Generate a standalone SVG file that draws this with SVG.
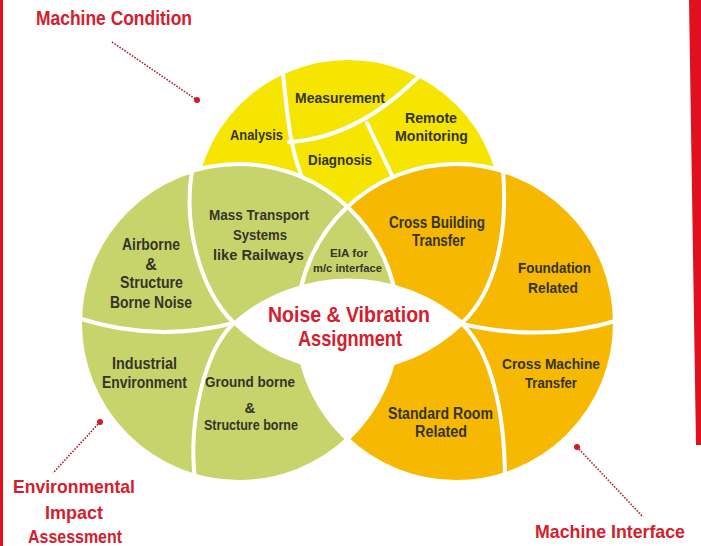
<svg xmlns="http://www.w3.org/2000/svg" width="701" height="546" viewBox="0 0 701 546">
<style>
.bg{fill:#ffffff}
.yel{fill:#f6e500;stroke:#ffffff;stroke-width:4}
.grn{fill:#c7d46c;stroke:#ffffff;stroke-width:4}
.org{fill:#f6b800;stroke:#ffffff;stroke-width:4}
.div{fill:none;stroke:#ffffff;stroke-width:4;stroke-linecap:round}
.t{font-family:"Liberation Sans",Arial,sans-serif;font-weight:bold;fill:#34342a;text-anchor:middle}
.s15{font-size:15px}
.s16{font-size:16px}
.s11{font-size:11px}
.red{font-family:"Liberation Sans",Arial,sans-serif;font-weight:bold;fill:#d4202c}
.lead{fill:none;stroke:#b3222c;stroke-width:1.6;stroke-dasharray:1.6 1.4}
.dot{fill:#d01c2a}
</style>
<defs>
<clipPath id="lensClip">
<path d="M347.5,206.8 A159,159 0 0 1 347.5,439.2 A159,159 0 0 1 347.5,206.8 Z"/>
</clipPath>
</defs>
<rect class="bg" x="0" y="0" width="701" height="546"/>
<rect x="0" y="0" width="3" height="546" fill="#e0101e"/>
<polygon points="689,0 701,0 701,445 696,445" fill="#e0101e"/>

<g id="machine-condition-circle">
<circle class="yel" cx="348" cy="213" r="155"/>
<path class="div" d="M282,64 C287,110 289,150 305,184"/>
<path class="div" d="M289,142 Q360,138 425,70"/>
<path class="div" d="M367,123 Q379,148 397,186"/>
</g>

<g id="environmental-circle">
<circle class="grn" cx="239" cy="323" r="159"/>
</g>

<g id="machine-interface-circle">
<circle class="org" cx="456" cy="323" r="159"/>
</g>

<g id="eia-lens">
<path class="grn" d="M347.5,206.8 A159,159 0 0 1 347.5,439.2 A159,159 0 0 1 347.5,206.8 Z"/>
<rect x="280" y="330" width="140" height="130" fill="#ffffff" clip-path="url(#lensClip)"/>
</g>

<g id="dividers">
<path class="div" d="M192,171 C183,225 200,290 234,323"/>
<path class="div" d="M78,318 Q155,343 234,323"/>
<path class="div" d="M234,323 C205,350 188,420 195,480"/>
<path class="div" d="M503,171 C508,230 497,290 462,323"/>
<path class="div" d="M619,320 Q545,343 462,324"/>
<path class="div" d="M462,324 C490,350 505,410 505,480"/>
</g>

<g id="centre">
<path d="M234,323 A174,174 0 0 1 463,323 A163,163 0 0 1 234,323 Z" fill="#ffffff" stroke="#ffffff" stroke-width="3"/>
<text class="red" x="349" y="322" font-size="22" text-anchor="middle" textLength="162" lengthAdjust="spacingAndGlyphs">Noise &amp; Vibration</text>
<text class="red" x="350" y="346" font-size="22" text-anchor="middle" textLength="104" lengthAdjust="spacingAndGlyphs">Assignment</text>
</g>

<g id="analysis"><text class="t s15" x="256.5" y="140" textLength="53" lengthAdjust="spacingAndGlyphs">Analysis</text></g>
<g id="measurement"><text class="t s15" x="340" y="103" textLength="90" lengthAdjust="spacingAndGlyphs">Measurement</text></g>
<g id="remote-monitoring">
<text class="t s15" x="431" y="123" textLength="52" lengthAdjust="spacingAndGlyphs">Remote</text>
<text class="t s15" x="431.5" y="141" textLength="73" lengthAdjust="spacingAndGlyphs">Monitoring</text>
</g>
<g id="diagnosis"><text class="t s15" x="340" y="165" textLength="64" lengthAdjust="spacingAndGlyphs">Diagnosis</text></g>

<g id="airborne">
<text class="t s16" x="151" y="250" textLength="58" lengthAdjust="spacingAndGlyphs">Airborne</text>
<text class="t s16" x="151" y="270">&amp;</text>
<text class="t s16" x="151.5" y="288" textLength="63" lengthAdjust="spacingAndGlyphs">Structure</text>
<text class="t s16" x="151" y="308" textLength="82" lengthAdjust="spacingAndGlyphs">Borne Noise</text>
</g>
<g id="mass-transport">
<text class="t s15" x="259" y="220" textLength="100" lengthAdjust="spacingAndGlyphs">Mass Transport</text>
<text class="t s15" x="260" y="240" textLength="54" lengthAdjust="spacingAndGlyphs">Systems</text>
<text class="t s15" x="258.5" y="260" textLength="91" lengthAdjust="spacingAndGlyphs">like Railways</text>
</g>
<g id="eia">
<text class="t s11" x="349" y="257" textLength="38" lengthAdjust="spacingAndGlyphs">EIA for</text>
<text class="t s11" x="347.5" y="272" textLength="69" lengthAdjust="spacingAndGlyphs">m/c interface</text>
</g>
<g id="industrial">
<text class="t s16" x="144.5" y="369" textLength="65" lengthAdjust="spacingAndGlyphs">Industrial</text>
<text class="t s16" x="144.5" y="388" textLength="85" lengthAdjust="spacingAndGlyphs">Environment</text>
</g>
<g id="ground-borne">
<text class="t s15" x="250" y="387" textLength="90" lengthAdjust="spacingAndGlyphs">Ground borne</text>
<text class="t s15" x="250" y="413">&amp;</text>
<text class="t s15" x="251" y="430" textLength="94" lengthAdjust="spacingAndGlyphs">Structure borne</text>
</g>

<g id="cross-building">
<text class="t s16" x="437" y="228" textLength="96" lengthAdjust="spacingAndGlyphs">Cross Building</text>
<text class="t s16" x="438.5" y="246" textLength="53" lengthAdjust="spacingAndGlyphs">Transfer</text>
</g>
<g id="foundation">
<text class="t s15" x="554.5" y="273" textLength="73" lengthAdjust="spacingAndGlyphs">Foundation</text>
<text class="t s15" x="553" y="293" textLength="50" lengthAdjust="spacingAndGlyphs">Related</text>
</g>
<g id="cross-machine">
<text class="t s15" x="551" y="369" textLength="98" lengthAdjust="spacingAndGlyphs">Cross Machine</text>
<text class="t s15" x="551" y="388" textLength="52" lengthAdjust="spacingAndGlyphs">Transfer</text>
</g>
<g id="standard-room">
<text class="t s16" x="440.5" y="419" textLength="105" lengthAdjust="spacingAndGlyphs">Standard Room</text>
<text class="t s16" x="441" y="437" textLength="52" lengthAdjust="spacingAndGlyphs">Related</text>
</g>

<g id="connectors">
<line class="lead" x1="112" y1="42" x2="197" y2="100"/>
<circle class="dot" cx="197" cy="100" r="3"/>
<line class="lead" x1="100" y1="422" x2="53" y2="473"/>
<circle class="dot" cx="100" cy="422" r="3"/>
<line class="lead" x1="577" y1="447" x2="643" y2="517"/>
<circle class="dot" cx="577" cy="447" r="3"/>
</g>

<g id="label-machine-condition">
<text class="red" x="36" y="25" font-size="20" textLength="156" lengthAdjust="spacingAndGlyphs">Machine Condition</text>
</g>
<g id="label-eia">
<text class="red" x="74" y="493" font-size="19" text-anchor="middle" textLength="122" lengthAdjust="spacingAndGlyphs">Environmental</text>
<text class="red" x="74" y="519" font-size="19" text-anchor="middle" textLength="58" lengthAdjust="spacingAndGlyphs">Impact</text>
<text class="red" x="75" y="543" font-size="19" text-anchor="middle" textLength="94" lengthAdjust="spacingAndGlyphs">Assessment</text>
</g>
<g id="label-machine-interface">
<text class="red" x="610" y="538" font-size="19" text-anchor="middle" textLength="150" lengthAdjust="spacingAndGlyphs">Machine Interface</text>
</g>
</svg>
